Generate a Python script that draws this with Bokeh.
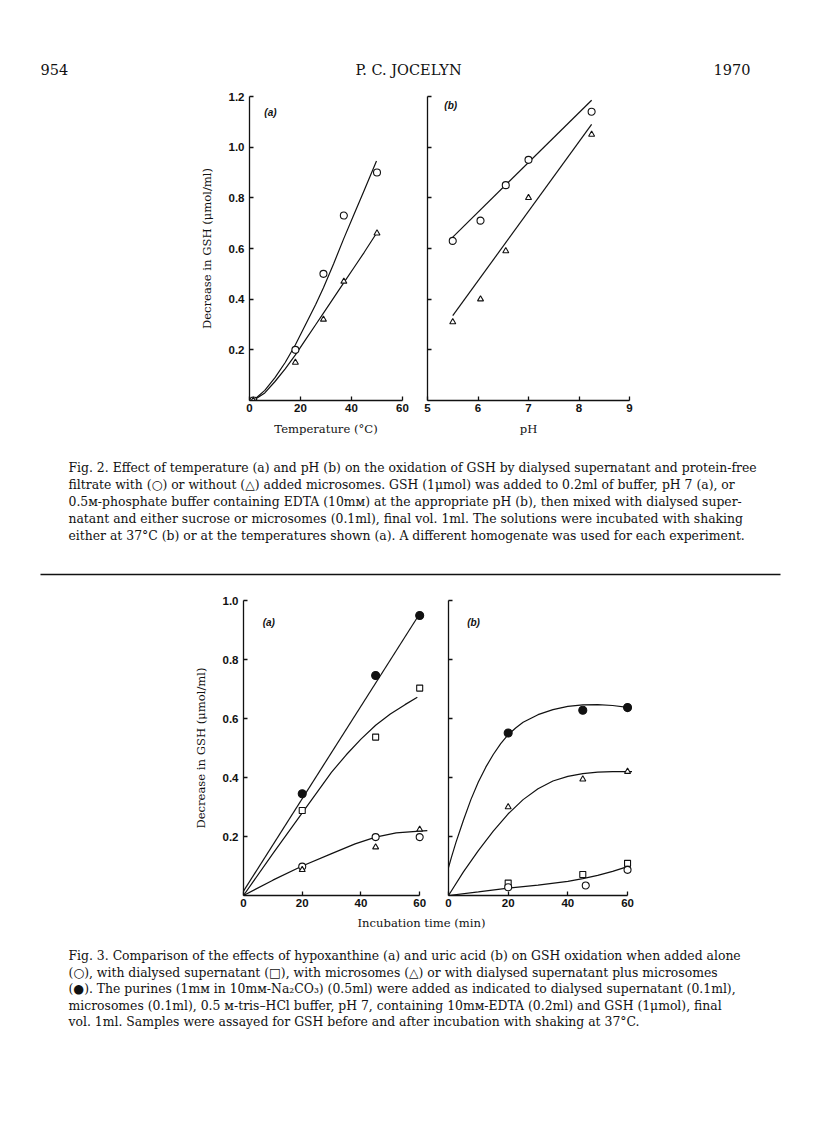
from bokeh.plotting import figure
from bokeh.layouts import column, row
from bokeh.models import Range1d, FixedTicker
from bokeh.core.properties import value
from bokeh.embed import file_html
from bokeh.resources import INLINE

# ---------------- Fig. 2 (a): temperature ----------------
temp_x = [1.5, 18, 29, 37, 50]
temp_with_mic = [0.0, 0.20, 0.50, 0.73, 0.90]        # open circles
temp_without_mic = [0.0, 0.15, 0.32, 0.47, 0.66]     # triangles
temp_fit_x = [1.5, 6, 10, 14, 18, 22, 26, 29, 33, 37, 41, 45, 49.8]
temp_fit_with = [0.0, 0.04, 0.09, 0.15, 0.22, 0.30, 0.38, 0.445, 0.54, 0.64, 0.735, 0.83, 0.945]
temp_fit_without = [0.0, 0.03, 0.075, 0.125, 0.18, 0.24, 0.30, 0.345, 0.405, 0.465, 0.525, 0.585, 0.66]

# ---------------- Fig. 2 (b): pH ----------------
ph_x = [5.5, 6.05, 6.55, 7.0, 8.25]
ph_with_mic = [0.63, 0.71, 0.85, 0.95, 1.14]
ph_without_mic = [0.31, 0.40, 0.59, 0.80, 1.05]
ph_fit_x = [5.5, 8.25]
ph_fit_with = [0.645, 1.185]
ph_fit_without = [0.335, 1.09]

# ---------------- Fig. 3: incubation time ----------------
time_x = [20, 45, 60]
# (a) hypoxanthine
a_sup_mic = [0.345, 0.746, 0.949]     # filled circles
a_sup = [0.288, 0.537, 0.703]         # squares
a_alone = [0.098, 0.198, 0.198]       # open circles
a_mic = [0.087, 0.164, 0.224]         # triangles
a_fit1_x = [0, 60]
a_fit1_y = [0.015, 0.955]
a_fit2_x = [0, 10, 20, 30, 35, 40, 45, 50, 55, 59.2]
a_fit2_y = [0.0, 0.142, 0.28, 0.418, 0.477, 0.53, 0.577, 0.615, 0.647, 0.672]
a_fit3_x = [0, 10, 20, 30, 38, 45, 52, 60, 62.6]
a_fit3_y = [0.0, 0.052, 0.10, 0.142, 0.175, 0.198, 0.212, 0.218, 0.22]
# (b) uric acid
b_sup_mic = [0.551, 0.628, 0.637]
b_mic = [0.30, 0.394, 0.42]
b_sup = [0.042, 0.071, 0.109]
b_alone_x = [20, 46, 60]
b_alone = [0.028, 0.034, 0.087]
b_fit1_x = [0, 1, 2.5, 5, 7.5, 10, 12.5, 15, 17.5, 20, 22.5, 25, 30, 35, 40, 45, 50, 55, 60]
b_fit1_y = [0.095, 0.13, 0.18, 0.255, 0.325, 0.385, 0.435, 0.478, 0.515, 0.545, 0.568, 0.587,
            0.613, 0.63, 0.641, 0.646, 0.647, 0.644, 0.638]
b_fit2_x = [0, 5, 10, 15, 20, 25, 30, 35, 40, 45, 50, 55, 61.5]
b_fit2_y = [0.0, 0.08, 0.152, 0.218, 0.277, 0.325, 0.362, 0.388, 0.404, 0.413, 0.418, 0.42, 0.42]
b_fit3_x = [0, 10, 20, 30, 40, 45, 50, 55, 60]
b_fit3_y = [0.0, 0.012, 0.025, 0.035, 0.048, 0.057, 0.068, 0.082, 0.098]

# ---------------- ticks ----------------
temp_ticks = [0, 20, 40, 60]
temp_tick_labels = ["0", "20", "40", "60"]
ph_ticks = [5, 6, 7, 8, 9]
ph_tick_labels = ["5", "6", "7", "8", "9"]
gsh2_ticks = [0.2, 0.4, 0.6, 0.8, 1.0, 1.2]
gsh2_tick_labels = ["0.2", "0.4", "0.6", "0.8", "1.0", "1.2"]
time_ticks = [0, 20, 40, 60]
time_tick_labels = ["0", "20", "40", "60"]
gsh3_ticks = [0.2, 0.4, 0.6, 0.8, 1.0]
gsh3_tick_labels = ["0.2", "0.4", "0.6", "0.8", "1.0"]

# ---------------- texts ----------------
header_left = "954"
header_mid = "P. C. JOCELYN"
header_right = "1970"
ylabel = "Decrease in GSH (\u03bcmol/ml)"
caption2 = [
    "Fig. 2.  Effect of temperature (a) and pH (b) on the oxidation of GSH by dialysed supernatant and protein-free",
    "filtrate with (\u25cb) or without (\u25b3) added microsomes.  GSH (1\u03bcmol) was added to 0.2ml of buffer, pH 7 (a), or",
    "0.5\u1d0d-phosphate buffer containing EDTA (10m\u1d0d) at the appropriate pH (b), then mixed with dialysed super-",
    "natant and either sucrose or microsomes (0.1ml), final vol. 1ml.  The solutions were incubated with shaking",
    "either at 37\u00b0C (b) or at the temperatures shown (a).  A different homogenate was used for each experiment.",
]
caption3 = [
    "Fig. 3.  Comparison of the effects of hypoxanthine (a) and uric acid (b) on GSH oxidation when added alone",
    "(\u25cb), with dialysed supernatant (\u25a1), with microsomes (\u25b3) or with dialysed supernatant plus microsomes",
    "(\u25cf).   The purines (1m\u1d0d in 10m\u1d0d-Na\u2082CO\u2083) (0.5ml) were added as indicated to dialysed supernatant (0.1ml),",
    "microsomes (0.1ml), 0.5 \u1d0d-tris\u2013HCl buffer, pH 7, containing 10m\u1d0d-EDTA (0.2ml) and GSH (1\u03bcmol), final",
    "vol. 1ml. Samples were assayed for GSH before and after incubation with shaking at 37\u00b0C.",
]

SERIF = "DejaVu Serif"
SANS = "Liberation Sans"
INK = "#111111"
CAP = "12.4px"
AXL = "11.6px"


def blank(w, h):
    p = figure(width=w, height=h, x_range=Range1d(0, w), y_range=Range1d(h, 0),
               x_axis_location=None, y_axis_location=None,
               toolbar_location=None, output_backend="svg",
               min_border_left=0, min_border_right=0, min_border_top=0, min_border_bottom=0)
    p.grid.visible = False
    p.xgrid.grid_line_color = None
    p.ygrid.grid_line_color = None
    p.outline_line_color = None
    p.background_fill_color = "white"
    p.border_fill_color = "white"
    return p


def put_text(p, x, y, s, size=CAP, align="left", font=SERIF, style="normal"):
    p.text(x=[x], y=[y], text=[s], text_font=value(font), text_font_size=value(size),
           text_align=align, text_baseline="middle", text_color=INK, text_font_style=style)


def panel(w, h, xr, yr, borders, xt, xl, yt, yl, xbounds=None, xlabel=None, ylab=None):
    l, r, t, b = borders
    p = figure(width=w, height=h, x_range=Range1d(*xr), y_range=Range1d(*yr),
               toolbar_location=None, output_backend="svg",
               min_border_left=l, min_border_right=r, min_border_top=t, min_border_bottom=b)
    p.grid.visible = False
    p.xgrid.grid_line_color = None
    p.ygrid.grid_line_color = None
    p.outline_line_color = None
    p.background_fill_color = "white"
    p.border_fill_color = "white"
    for ax, ticks, labels in ((p.xaxis[0], xt, xl), (p.yaxis[0], yt, yl)):
        ax.ticker = FixedTicker(ticks=ticks)
        ax.major_label_overrides = {tk: s for tk, s in zip(ticks, labels)}
        ax.axis_line_color = INK
        ax.axis_line_width = 1.3
        ax.major_tick_line_color = INK
        ax.major_tick_line_width = 1.3
        ax.major_tick_in = 4
        ax.major_tick_out = 0
        ax.minor_tick_line_color = None
        ax.major_label_text_font = SANS
        ax.major_label_text_font_style = "bold"
        ax.major_label_text_font_size = "11.5px"
        ax.major_label_text_color = INK
        ax.major_label_standoff = 5
        ax.axis_label_text_font = SERIF
        ax.axis_label_text_font_style = "normal"
        ax.axis_label_text_font_size = AXL
        ax.axis_label_text_color = INK
    p.xaxis[0].major_label_standoff = 3
    if xbounds is not None:
        p.xaxis[0].bounds = xbounds
    if xlabel:
        p.xaxis[0].axis_label = xlabel
        p.xaxis[0].axis_label_standoff = 7
    if ylab:
        p.yaxis[0].axis_label = ylab
        p.yaxis[0].axis_label_standoff = 12
    return p


def fit(p, x, y):
    p.line(x, y, line_color=INK, line_width=1.2)


def pts(p, x, y, marker, size, filled=False):
    p.scatter(x, y, marker=marker, size=size, line_color=INK, line_width=1.1,
              fill_color=INK if filled else "white")


def tag(p, x, y, s):
    p.text(x=[x], y=[y], text=[s], text_font=value(SANS), text_font_size=value("10px"),
           text_font_style="bold italic", text_align="center", text_baseline="middle",
           text_color=INK)


# ---------------- header ----------------
hdr = blank(816, 88)
put_text(hdr, 40, 69, header_left, size="14.5px")
put_text(hdr, 408, 69, header_mid, size="14.5px", align="center")
put_text(hdr, 750, 69, header_right, size="14.5px", align="right")

# ---------------- Fig. 2 panels ----------------
f2a = panel(414, 352, (0, 60), (0, 1.2), (249, 12, 8, 40),
            temp_ticks, temp_tick_labels, gsh2_ticks, gsh2_tick_labels,
            xlabel="Temperature (\u00b0C)", ylab=ylabel)
fit(f2a, temp_fit_x, temp_fit_with)
fit(f2a, temp_fit_x, temp_fit_without)
pts(f2a, temp_x, temp_with_mic, "circle", 7)
pts(f2a, temp_x, temp_without_mic, "triangle", 6)
tag(f2a, 8.2, 1.138, "(a)")

f2b = panel(402, 352, (5, 9), (0, 1.2), (13, 187, 8, 40),
            ph_ticks, ph_tick_labels, gsh2_ticks, [""] * len(gsh2_ticks),
            xlabel="pH")
fit(f2b, ph_fit_x, ph_fit_with)
fit(f2b, ph_fit_x, ph_fit_without)
pts(f2b, ph_x, ph_with_mic, "circle", 7)
pts(f2b, ph_x, ph_without_mic, "triangle", 6)
tag(f2b, 5.46, 1.165, "(b)")

# ---------------- caption 2 + rule ----------------
cap2 = blank(816, 155)
for i, line in enumerate(caption2):
    put_text(cap2, 68, 27 + 17 * i, line)
cap2.line([40, 780], [134, 134], line_color=INK, line_width=1.4)

# ---------------- Fig. 3 panels ----------------
f3a = panel(432, 320, (0, 63), (0, 1.0), (243, 4, 5, 20),
            time_ticks, time_tick_labels, gsh3_ticks, gsh3_tick_labels,
            xbounds=(0, 60), ylab=ylabel)
fit(f3a, a_fit1_x, a_fit1_y)
fit(f3a, a_fit2_x, a_fit2_y)
fit(f3a, a_fit3_x, a_fit3_y)
pts(f3a, time_x, a_sup_mic, "circle", 8, filled=True)
pts(f3a, time_x, a_sup, "square", 6)
pts(f3a, time_x, a_alone, "circle", 7)
pts(f3a, time_x, a_mic, "triangle", 6)
tag(f3a, 8.6, 0.926, "(a)")

f3b = panel(384, 320, (0, 63), (0, 1.0), (16, 180, 5, 20),
            time_ticks, time_tick_labels, gsh3_ticks, [""] * len(gsh3_ticks),
            xbounds=(0, 60))
fit(f3b, b_fit1_x, b_fit1_y)
fit(f3b, b_fit2_x, b_fit2_y)
fit(f3b, b_fit3_x, b_fit3_y)
pts(f3b, time_x, b_sup_mic, "circle", 8, filled=True)
pts(f3b, time_x, b_mic, "triangle", 6)
pts(f3b, time_x, b_sup, "square", 6)
pts(f3b, b_alone_x, b_alone, "circle", 7)
tag(f3b, 8.4, 0.926, "(b)")

# ---------------- x label + caption 3 ----------------
cap3 = blank(816, 221)
put_text(cap3, 421, 7, "Incubation time (min)", size=AXL, align="center")
for i, line in enumerate(caption3):
    put_text(cap3, 68, 40 + 16.6 * i, line)

page = column(hdr, row(f2a, f2b), cap2, row(f3a, f3b), cap3)

open("out.html", "w").write(file_html(page, INLINE))
